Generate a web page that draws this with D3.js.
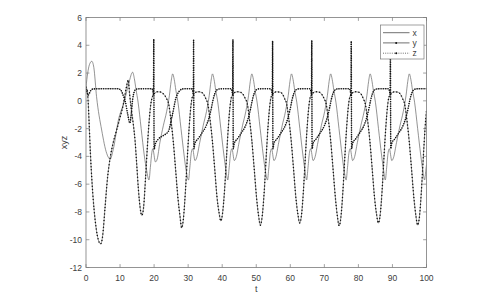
<!DOCTYPE html>
<html>
<head>
<meta charset="utf-8">
<script src="https://cdn.jsdelivr.net/npm/d3@7"></script>
<style>
  html, body { margin: 0; padding: 0; background: #fff; }
  svg { display: block; font-family: "Liberation Sans", Arial, sans-serif; }
</style>
</head>
<body>
<svg id="chart" width="504" height="296"></svg>
<script>
// values, [t, value]
const xSeries = [
  [0,1.0],[0.5,2.0],[1.0,2.6],[1.7,2.85],[2.3,2.4],[3.1,0.3],[4.6,-2.1],[6.1,-3.8],[7.1,-4.2],[8.0,-3.5],[9.5,-1.4],[11.3,0.0],[12.6,1.3],[13.7,2.06],[14.2,1.6],[14.7,0.8],[15.3,-0.1],[16.2,-2.0],[17.1,-3.9],[17.8,-5.0],[18.5,-5.7],[18.9,-4.8],[19.35,-3.7],[19.6,-3.45],
  [20.4,-4.4],[20.9,-4.2],[21.7,-3.0],[22.7,-1.8],[23.7,-0.75],[24.5,0.4],[25.0,1.4],[25.45,1.94],[25.9,1.55],[26.4,0.75],[27.0,-0.1],[27.9,-2.0],[28.8,-3.9],[29.4,-5.0],[30.1,-5.7],[30.5,-4.8],[30.95,-3.7],[31.3,-3.45],
  [32.0,-4.3],[32.5,-4.1],[33.4,-3.0],[34.4,-1.8],[35.4,-0.75],[36.2,0.4],[36.7,1.4],[37.15,1.94],[37.6,1.55],[38.1,0.75],[38.7,-0.1],[39.6,-2.0],[40.5,-3.9],[41.1,-5.0],[41.65,-5.7],[42.05,-4.8],[42.5,-3.7],[42.85,-3.45],
  [43.55,-4.3],[44.05,-4.1],[44.95,-3.0],[45.95,-1.8],[46.95,-0.75],[47.75,0.4],[48.25,1.4],[48.7,1.94],[49.15,1.55],[49.65,0.75],[50.25,-0.1],[51.15,-2.0],[52.05,-3.9],[52.65,-5.0],[53.3,-5.7],[53.7,-4.8],[54.15,-3.7],[54.5,-3.45],
  [55.2,-4.3],[55.7,-4.1],[56.6,-3.0],[57.6,-1.8],[58.6,-0.75],[59.4,0.4],[59.9,1.4],[60.35,1.94],[60.8,1.55],[61.3,0.75],[61.9,-0.1],[62.8,-2.0],[63.7,-3.9],[64.3,-5.0],[64.8,-5.7],[65.2,-4.8],[65.65,-3.7],[66.0,-3.45],
  [66.7,-4.3],[67.2,-4.1],[68.1,-3.0],[69.1,-1.8],[70.1,-0.75],[70.9,0.4],[71.4,1.4],[71.85,1.94],[72.3,1.55],[72.8,0.75],[73.4,-0.1],[74.3,-2.0],[75.2,-3.9],[75.8,-5.0],[76.4,-5.7],[76.8,-4.8],[77.25,-3.7],[77.6,-3.45],
  [78.3,-4.3],[78.8,-4.1],[79.7,-3.0],[80.7,-1.8],[81.7,-0.75],[82.5,0.4],[83.0,1.4],[83.45,1.94],[83.9,1.55],[84.4,0.75],[85.0,-0.1],[85.9,-2.0],[86.8,-3.9],[87.4,-5.0],[87.9,-5.7],[88.3,-4.8],[88.75,-3.7],[89.1,-3.45],
  [89.8,-4.3],[90.3,-4.1],[91.2,-3.0],[92.2,-1.8],[93.2,-0.75],[94.0,0.4],[94.5,1.4],[94.95,1.94],[95.4,1.55],[95.9,0.75],[96.5,-0.1],[97.4,-2.0],[98.3,-3.9],[98.9,-5.0],[99.45,-5.7],[99.8,-5.0],[100,-4.6]
];

const ySeries = [
  [0,0.95],[0.3,0.8],[0.6,0.1],[0.9,-1.5],[1.3,-3.8],[1.8,-6.0],[2.4,-7.9],[3.0,-9.2],[3.6,-10.0],[4.3,-10.3],[4.9,-9.7],[5.6,-7.65],[6.3,-5.6],[7.1,-4.1],[8.0,-3.0],[9.0,-2.1],[10.0,-1.2],[11.0,-0.2],[11.8,0.9],[12.4,1.5],[12.8,0.5],[13.3,-0.6],[13.9,-1.7],[14.4,-2.85],[14.9,-4.6],[15.4,-6.4],[15.9,-7.7],[16.4,-8.25],[16.9,-7.7],[17.5,-5.5],[18.0,-3.4],[18.5,-1.6],[19.0,-0.3],[19.5,0.3],
  [19.9,0.45],[20.3,0.58],[21.1,0.65],[22.1,0.62],[22.9,0.45],[23.7,0.15],[24.3,-0.25],[24.9,-1.3],[25.6,-2.85],[26.3,-4.9],[27.0,-7.0],[27.6,-8.3],[28.1,-9.15],[28.6,-8.5],[29.2,-6.5],[29.8,-3.9],[30.3,-1.9],[30.8,-0.4],[31.2,0.25],
  [31.6,0.45],[32.0,0.58],[32.8,0.65],[33.8,0.62],[34.6,0.45],[35.2,0.15],[35.8,-0.25],[36.4,-1.3],[37.1,-2.85],[37.8,-4.9],[38.5,-7.0],[39.1,-8.1],[39.6,-8.65],[40.1,-8.1],[40.7,-6.4],[41.3,-3.9],[41.8,-1.9],[42.3,-0.4],[42.7,0.25],
  [43.15,0.45],[43.55,0.58],[44.35,0.65],[45.35,0.62],[46.15,0.45],[46.8,0.15],[47.4,-0.25],[48.0,-1.3],[48.7,-2.85],[49.4,-4.9],[50.1,-7.0],[50.7,-8.3],[51.2,-8.95],[51.7,-8.4],[52.35,-6.5],[52.95,-3.9],[53.45,-1.9],[53.95,-0.4],[54.35,0.25],
  [54.8,0.45],[55.2,0.58],[56.0,0.65],[57.0,0.62],[57.8,0.45],[58.35,0.15],[58.95,-0.25],[59.55,-1.3],[60.25,-2.85],[60.95,-4.9],[61.65,-7.0],[62.25,-8.2],[62.75,-8.8],[63.25,-8.3],[63.85,-6.5],[64.45,-3.9],[64.95,-1.9],[65.45,-0.4],[65.85,0.25],
  [66.3,0.45],[66.7,0.58],[67.5,0.65],[68.5,0.62],[69.3,0.45],[69.95,0.15],[70.55,-0.25],[71.15,-1.3],[71.85,-2.85],[72.55,-4.9],[73.25,-7.0],[73.85,-8.35],[74.35,-9.0],[74.85,-8.4],[75.45,-6.5],[76.05,-3.9],[76.55,-1.9],[77.05,-0.4],[77.45,0.25],
  [77.9,0.45],[78.3,0.58],[79.1,0.65],[80.1,0.62],[80.9,0.45],[81.45,0.15],[82.05,-0.25],[82.65,-1.3],[83.35,-2.85],[84.05,-4.9],[84.75,-7.0],[85.35,-8.2],[85.85,-8.8],[86.35,-8.3],[86.95,-6.5],[87.55,-3.9],[88.05,-1.9],[88.55,-0.4],[88.95,0.25],
  [89.4,0.45],[89.8,0.58],[90.6,0.65],[91.6,0.62],[92.4,0.45],[93.0,0.15],[93.6,-0.25],[94.2,-1.3],[94.9,-2.85],[95.6,-4.9],[96.3,-7.0],[96.9,-8.3],[97.4,-8.95],[97.9,-8.4],[98.5,-6.5],[99.1,-3.9],[99.6,-1.9],[100,-0.7]
];

const zSeries = [
  [0,1.0],[0.3,0.6],[0.6,0.4],[1.0,0.55],[1.5,0.78],[2.2,0.86],[9.5,0.87],[10.3,0.75],[10.9,0.4],[11.5,0.0],[12.2,-0.9],[12.9,-1.6],[13.3,-0.9],[13.7,0.1],[14.1,0.6],[14.6,0.82],[15.3,0.86],
  [19.3,0.87],[19.55,0.78],[19.7,0.6],[19.82,0.45],[19.9,4.45],[20.0,-3.5],[20.3,-3.15],[21.3,-2.74],[22.7,-2.5],[24.2,-2.2],[25.2,-1.2],[25.8,-0.5],[26.2,0.0],[26.9,0.5],[27.6,0.75],[28.4,0.86],
  [31.0,0.87],[31.25,0.78],[31.4,0.6],[31.52,0.45],[31.6,4.35],[31.7,-3.45],[32.0,-3.05],[32.9,-2.74],[34.1,-2.3],[35.2,-1.85],[36.1,-1.25],[36.8,-0.55],[37.3,0.05],[37.8,0.5],[38.4,0.78],[39.2,0.86],
  [42.55,0.87],[42.8,0.78],[42.95,0.6],[43.07,0.45],[43.15,4.4],[43.25,-3.45],[43.55,-3.05],[44.45,-2.74],[45.65,-2.3],[46.75,-1.85],[47.65,-1.25],[48.35,-0.55],[48.85,0.05],[49.35,0.5],[49.95,0.78],[50.75,0.86],
  [54.2,0.87],[54.45,0.78],[54.6,0.6],[54.72,0.45],[54.8,4.3],[54.9,-3.45],[55.2,-3.05],[56.1,-2.74],[57.3,-2.3],[58.4,-1.85],[59.3,-1.25],[60.0,-0.55],[60.5,0.05],[61.0,0.5],[61.6,0.78],[62.4,0.86],
  [65.7,0.87],[65.95,0.78],[66.1,0.6],[66.22,0.45],[66.3,4.35],[66.4,-3.45],[66.7,-3.05],[67.6,-2.74],[68.8,-2.3],[69.9,-1.85],[70.8,-1.25],[71.5,-0.55],[72.0,0.05],[72.5,0.5],[73.1,0.78],[73.9,0.86],
  [77.3,0.87],[77.55,0.78],[77.7,0.6],[77.82,0.45],[77.9,4.3],[78.0,-3.45],[78.3,-3.05],[79.2,-2.74],[80.4,-2.3],[81.5,-1.85],[82.4,-1.25],[83.1,-0.55],[83.6,0.05],[84.1,0.5],[84.7,0.78],[85.5,0.86],
  [88.8,0.87],[89.05,0.78],[89.2,0.6],[89.32,0.45],[89.4,4.35],[89.5,-3.45],[89.8,-3.05],[90.7,-2.74],[91.9,-2.3],[93.0,-1.85],[93.9,-1.25],[94.6,-0.55],[95.1,0.05],[95.6,0.5],[96.2,0.78],[97.0,0.86],[100,0.87]
];

const xTicks = [0, 10, 20, 30, 40, 50, 60, 70, 80, 90, 100];
const yTicks = [-12, -10, -8, -6, -4, -2, 0, 2, 4, 6];
const legendNames = ["x", "y", "z"];

const svg = d3.select("#chart");
const plotL = 86, plotR = 426.5, plotT = 17.5, plotB = 267.5;
const axisColor = "#7a7a7a";
const textColor = "#404040";

const xScale = d3.scaleLinear().domain([0, 100]).range([plotL, plotR]);
const yScale = d3.scaleLinear().domain([-12, 6]).range([plotB, plotT]);

svg.append("defs").append("clipPath").attr("id", "plotClip")
  .append("rect").attr("x", plotL).attr("y", plotT).attr("width", plotR - plotL).attr("height", plotB - plotT);

const line = d3.line()
  .x(d => xScale(d[0]))
  .y(d => yScale(d[1]))
  .curve(d3.curveMonotoneX);

const plot = svg.append("g").attr("clip-path", "url(#plotClip)");

// x : thin solid
plot.append("path").datum(xSeries)
  .attr("d", line).attr("fill", "none")
  .attr("stroke", "#666").attr("stroke-width", 0.7);

// y : solid + dots
plot.append("path").datum(ySeries)
  .attr("d", line).attr("fill", "none")
  .attr("stroke", "#555").attr("stroke-width", 0.6);
plot.append("path").datum(ySeries)
  .attr("d", line).attr("fill", "none")
  .attr("stroke", "#111").attr("stroke-width", 1.5)
  .attr("stroke-linecap", "round").attr("stroke-dasharray", "0 3.3");

// z : dotted + dots
plot.append("path").datum(zSeries)
  .attr("d", line).attr("fill", "none")
  .attr("stroke", "#333").attr("stroke-width", 0.6)
  .attr("stroke-dasharray", "1 1.2");
plot.append("path").datum(zSeries)
  .attr("d", line).attr("fill", "none")
  .attr("stroke", "#111").attr("stroke-width", 1.6)
  .attr("stroke-linecap", "round").attr("stroke-dasharray", "0 2.3");

// axes box, ticks inward on all sides
const axes = svg.append("g");
const tickLen = 3.4;

axes.selectAll(".xtb").data(xTicks).enter().append("line")
  .attr("x1", d => xScale(d)).attr("x2", d => xScale(d))
  .attr("y1", plotB).attr("y2", plotB - tickLen)
  .attr("stroke", axisColor).attr("stroke-width", 0.7);
axes.selectAll(".xtt").data(xTicks).enter().append("line")
  .attr("x1", d => xScale(d)).attr("x2", d => xScale(d))
  .attr("y1", plotT).attr("y2", plotT + tickLen)
  .attr("stroke", axisColor).attr("stroke-width", 0.7);
axes.selectAll(".ytl").data(yTicks).enter().append("line")
  .attr("x1", plotL).attr("x2", plotL + tickLen)
  .attr("y1", d => yScale(d)).attr("y2", d => yScale(d))
  .attr("stroke", axisColor).attr("stroke-width", 0.7);
axes.selectAll(".ytr").data(yTicks).enter().append("line")
  .attr("x1", plotR).attr("x2", plotR - tickLen)
  .attr("y1", d => yScale(d)).attr("y2", d => yScale(d))
  .attr("stroke", axisColor).attr("stroke-width", 0.7);

axes.append("rect")
  .attr("x", plotL).attr("y", plotT).attr("width", plotR - plotL).attr("height", plotB - plotT)
  .attr("fill", "none").attr("stroke", axisColor).attr("stroke-width", 0.8);

axes.selectAll(".xlab").data(xTicks).enter().append("text")
  .attr("x", d => xScale(d)).attr("y", plotB + 13.5)
  .attr("text-anchor", "middle").attr("font-size", "8.5px").attr("fill", textColor)
  .text(d => d);
axes.selectAll(".ylab").data(yTicks).enter().append("text")
  .attr("x", plotL - 4).attr("y", d => yScale(d) + 3)
  .attr("text-anchor", "end").attr("font-size", "8.5px").attr("fill", textColor)
  .text(d => d);

svg.append("text")
  .attr("x", (plotL + plotR) / 2).attr("y", 292)
  .attr("text-anchor", "middle").attr("font-size", "9px").attr("fill", textColor)
  .text("t");
svg.append("text")
  .attr("transform", `translate(67,${(plotT + plotB) / 2}) rotate(-90)`)
  .attr("text-anchor", "middle").attr("font-size", "9px").attr("fill", textColor)
  .text("xyz");

// legend
const lg = svg.append("g");
lg.append("rect")
  .attr("x", 380.5).attr("y", 25).attr("width", 43.5).attr("height", 34)
  .attr("fill", "#fff").attr("stroke", axisColor).attr("stroke-width", 0.7);
const rowY = [32.7, 42.9, 53.2];
legendNames.forEach((name, i) => {
  const y = rowY[i];
  const ln = lg.append("line")
    .attr("x1", 383).attr("x2", 409.5).attr("y1", y).attr("y2", y)
    .attr("stroke", "#333").attr("stroke-width", 0.7);
  if (i === 2) ln.attr("stroke-dasharray", "1 1.2");
  if (i > 0) {
    lg.append("circle").attr("cx", 396.2).attr("cy", y).attr("r", 1).attr("fill", "#111");
  }
  lg.append("text")
    .attr("x", 412.5).attr("y", y + 3)
    .attr("font-size", "8.5px").attr("fill", textColor)
    .text(name);
});
</script>
</body>
</html>
